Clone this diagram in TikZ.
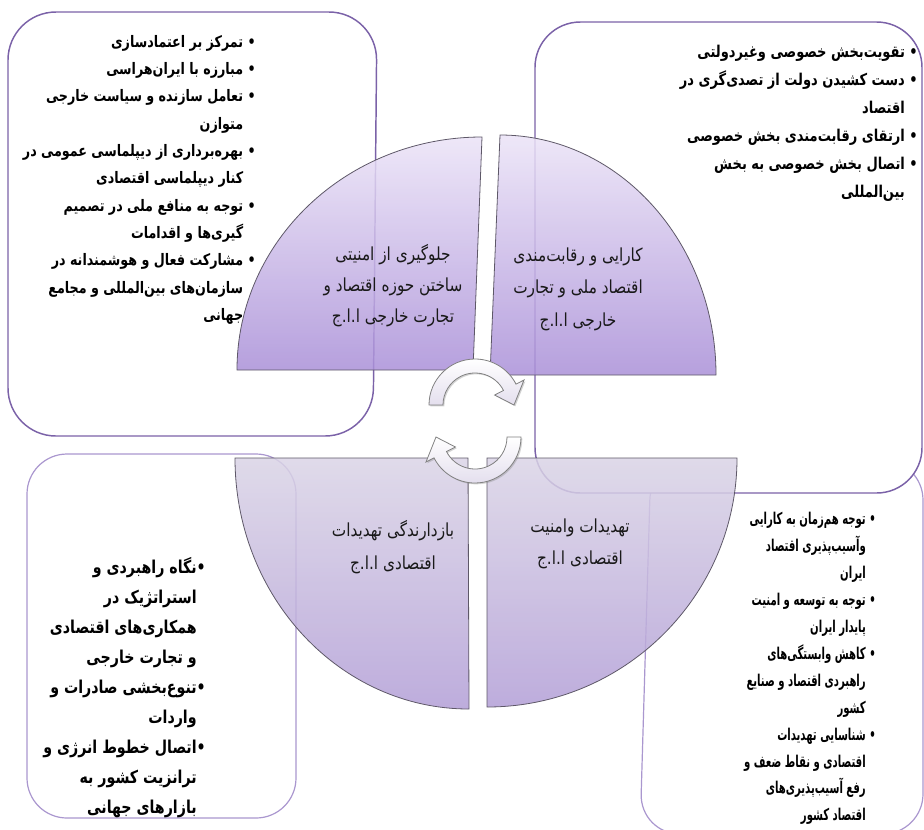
\documentclass[tikz,border=0pt]{standalone}
\usepackage{fontspec}
\TeXXeTstate=1
\newfontfamily\fa[Script=Arabic,FakeStretch=0.85]{DejaVu Sans}
\newfontfamily\fab[Script=Arabic,FakeStretch=0.8]{DejaVu Sans}
\newfontfamily\fac[Script=Arabic,FakeStretch=0.62]{DejaVu Sans}
\usetikzlibrary{calc,shadows}
\definecolor{boxA}{HTML}{7B62A8}
\definecolor{boxB}{HTML}{AA97CF}
\definecolor{qtop}{HTML}{EBE3F7}
\definecolor{qbot}{HTML}{AA90D8}
\definecolor{qtopB}{HTML}{DAD4E6}
\definecolor{qbotB}{HTML}{B29ED6}
\definecolor{qedge}{HTML}{5E5868}
\definecolor{arrgray}{HTML}{808080}
\definecolor{arrlow}{HTML}{E4DFEE}
\newcommand\bi{\phantom{• }}
\newcommand\bj{\phantom{•}}
\begin{document}
\begin{tikzpicture}[x=0.75pt,y=-0.75pt,
  boxa/.style={draw=boxA, line width=1.1pt, fill=white},
  boxb/.style={draw=boxB, line width=0.9pt, fill=white},
  quad/.style={draw=qedge, line width=0.6pt, fill opacity=0.85},
  cyc/.style={draw=arrgray, line width=0.6pt, top color=white, bottom color=arrlow,
    drop shadow={opacity=0.35,shadow xshift=1pt,shadow yshift=-1pt}},
  listtxt/.style={anchor=north east, inner sep=0pt, align=right, text=black,
    font=\fab\bfseries\fontsize{11.9}{20.5}\selectfont},
  quadtxt/.style={align=center, inner sep=0pt, text=black!90,
    font=\fa\fontsize{13.5}{23.25}\selectfont}]
\useasboundingbox (0,0) rectangle (924,829);

% corner boxes
\draw[boxb, rounded corners=30] (651,460) -- (923,460) -- (923,834) -- (640,834) -- cycle;
\draw[boxa, rounded corners=34] (535,493) -- (535,22) -- (922,22) -- (922,493) -- cycle;
\draw[boxa, rounded corners=36] (8,436) -- (8,12) -- (377,12) -- (373,436) -- cycle;
\draw[boxb, rounded corners=30] (27,818) -- (27,454) -- (296,454) -- (296,818) -- cycle;

% list texts
\node[listtxt] (tlt) at (256,35) {%
\beginR • تمرکز بر اعتمادسازی\endR\\
\beginR • مبارزه با ایران^^^^200cهراسی\endR\\
\beginR • تعامل سازنده و سیاست خارجی\endR\\
\beginR\bi متوازن\endR\\
\beginR • بهره^^^^200cبرداری از دیپلماسی عمومی در\endR\\
\beginR\bi کنار دیپلماسی اقتصادی\endR\\
\beginR • توجه به منافع ملی در تصمیم\endR\\
\beginR\bi گیری^^^^200cها و اقدامات\endR\\
\beginR • مشارکت فعال و هوشمندانه در\endR\\
\beginR\bi سازمان^^^^200cهای بین^^^^200cالمللی و مجامع\endR\\
\beginR\bi جهانی\endR};

\node[listtxt, font=\fab\bfseries\fontsize{12.2}{21}\selectfont] (trt) at (918,45) {%
\beginR • تقویت^^^^200cبخش خصوصی وغیردولتی\endR\\
\beginR • دست کشیدن دولت از تصدی^^^^200cگری در\endR\\
\beginR\bi اقتصاد\endR\\
\beginR • ارتقای رقابت^^^^200cمندی بخش خصوصی\endR\\
\beginR • اتصال بخش خصوصی به بخش\endR\\
\beginR\bi بین^^^^200cالمللی\endR};

\node[listtxt, font=\fab\bfseries\fontsize{13.3}{22.5}\selectfont] (blt) at (206,557) {%
\beginR •نگاه راهبردی و\endR\\
\beginR\bj استراتژیک در\endR\\
\beginR\bj همکاری^^^^200cهای اقتصادی\endR\\
\beginR\bj و تجارت خارجی\endR\\
\beginR •تنوع^^^^200cبخشی صادرات و\endR\\
\beginR\bj واردات\endR\\
\beginR •اتصال خطوط انرژی و\endR\\
\beginR\bj ترانزیت کشور به\endR\\
\beginR\bj بازارهای جهانی\endR};

\node[listtxt, font=\fac\bfseries\fontsize{12.2}{20.2}\selectfont] (brt) at (876,512) {%
\beginR • توجه هم^^^^200cزمان به کارایی\endR\\
\beginR\bi وآسیب^^^^200cپذیری اقتصاد\endR\\
\beginR\bi ایران\endR\\
\beginR • توجه به توسعه و امنیت\endR\\
\beginR\bi پایدار ایران\endR\\
\beginR • کاهش وابستگی^^^^200cهای\endR\\
\beginR\bi راهبردی اقتصاد و صنایع\endR\\
\beginR\bi کشور\endR\\
\beginR • شناسایی تهدیدات\endR\\
\beginR\bi اقتصادی و نقاط ضعف و\endR\\
\beginR\bi رفع آسیب^^^^200cپذیری^^^^200cهای\endR\\
\beginR\bi اقتصاد کشور\endR};

% quadrants
\path[quad, top color=qtop, bottom color=qbot]
  (473,370) -- (237,370) .. controls (237,241) and (347,137) .. (482,137) -- cycle;
\path[quad, top color=qtop, bottom color=qbot]
  (490,375) -- (500,135) .. controls (619,135) and (716,243) .. (716,375) -- cycle;
\path[quad, top color=qtopB, bottom color=qbotB]
  (235,458) -- (468,458) -- (469,709) .. controls (340,709) and (235,597) .. (235,458) -- cycle;
\path[quad, top color=qtopB, bottom color=qbotB]
  (487,458) -- (737,458) .. controls (737,595) and (625,707) .. (487,707) -- cycle;

% quadrant texts
\node[quadtxt] (q1) at (393,286) {%
\beginR جلوگیری از امنیتی\endR\\
\beginR ساختن  حوزه اقتصاد و\endR\\
\beginR تجارت خارجی ا.ا.ج\endR};
\node[quadtxt, font=\fa\fontsize{13.5}{24.4}\selectfont] (q2) at (578,289) {%
\beginR کارایی و رقابت^^^^200cمندی\endR\\
\beginR اقتصاد ملی و تجارت\endR\\
\beginR خارجی ا.ا.ج\endR};
\node[quadtxt, font=\fa\fontsize{13.5}{24.75}\selectfont] (q3) at (393,547) {%
\beginR بازدارندگی تهدیدات\endR\\
\beginR اقتصادی ا.ا.ج\endR};
\node[quadtxt, font=\fa\fontsize{13.5}{24}\selectfont] (q4) at (580,544) {%
\beginR تهدیدات وامنیت\endR\\
\beginR اقتصادی ا.ا.ج\endR};

% cycle arrows
\coordinate (ta) at (475,405);
\coordinate (ba) at (475,437);
\path[cyc] ($(ta)+(180:46)$) arc[start angle=180,end angle=333,radius=46]
  -- ($(ta)+(333:55)$) -- ($(ta)+(0:39)$) -- ($(ta)+(333:22)$)
  -- ($(ta)+(333:32)$) arc[start angle=333,end angle=180,radius=32] -- cycle;
\path[cyc] ($(ba)+(0:46)$) arc[start angle=0,end angle=153,radius=46]
  -- ($(ba)+(153:55)$) -- ($(ba)+(180:39)$) -- ($(ba)+(153:22)$)
  -- ($(ba)+(153:32)$) arc[start angle=153,end angle=0,radius=32] -- cycle;
\end{tikzpicture}
\end{document}
